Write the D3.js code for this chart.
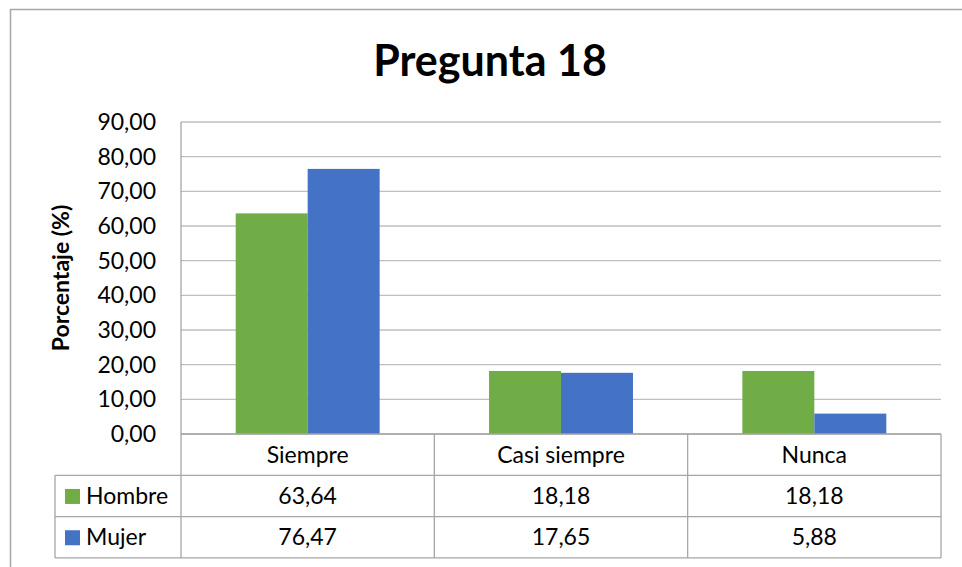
<!DOCTYPE html>
<html>
<head>
<meta charset="utf-8">
<script src="https://cdn.jsdelivr.net/npm/d3@7"></script>
<style>
  body { margin: 0; background: #fff; }
  svg { display: block; font-family: Lato, "Open Sans", sans-serif; }
</style>
</head>
<body>
<svg id="svg" width="962" height="567"></svg>
<script>
var categories = ["Siempre", "Casi siempre", "Nunca"];
var seriesNames = ["Hombre", "Mujer"];
var hombre = [63.64, 18.18, 18.18];
var mujer = [76.47, 17.65, 5.88];
var yTicks = [0, 10, 20, 30, 40, 50, 60, 70, 80, 90];

var colors = ["#70ad47", "#4472c4"];
var values = [hombre, mujer];
var fmt = function (v) { return v.toFixed(2).replace(".", ","); };

var svg = d3.select("#svg");
var plotLeft = 181, plotRight = 941, plotTop = 122, plotBottom = 434;
var rowH = 41.3, tableLeft = 55;
var fs = 23;

// outer frame
svg.append("path")
    .attr("d", "M10.5,567 L10.5,9.5 L962,9.5")
    .attr("fill", "none")
    .attr("stroke", "#a6a6a6")
    .attr("stroke-width", 1.5);

svg.append("text")
    .attr("x", 490).attr("y", 76)
    .attr("text-anchor", "middle")
    .attr("font-size", 43).attr("font-weight", "bold")
    .text("Pregunta 18");

var x = d3.scaleBand().domain(categories).range([plotLeft, plotRight]);
var x1 = d3.scaleBand().domain(seriesNames).range([0, x.bandwidth()]).paddingInner(0).paddingOuter(0.76);
var y = d3.scaleLinear().domain([0, 90]).range([plotBottom, plotTop]);

// gridlines
svg.append("g").selectAll("line")
    .data(yTicks)
    .enter().append("line")
    .attr("x1", plotLeft).attr("x2", plotRight)
    .attr("y1", function (d) { return y(d); })
    .attr("y2", function (d) { return y(d); })
    .attr("stroke", "#bfbfbf").attr("stroke-width", 1.3);

// y axis labels
svg.append("g").selectAll("text")
    .data(yTicks)
    .enter().append("text")
    .attr("x", plotLeft - 25)
    .attr("y", function (d) { return y(d); })
    .attr("dy", "0.35em")
    .attr("text-anchor", "end")
    .attr("font-size", fs)
    .text(function (d) { return fmt(d); });

svg.append("text")
    .attr("transform", "translate(69," + ((plotTop + plotBottom) / 2) + ") rotate(-90)")
    .attr("text-anchor", "middle")
    .attr("font-size", fs).attr("font-weight", "bold")
    .text("Porcentaje (%)");

// bars
seriesNames.forEach(function (s, i) {
    svg.append("g").selectAll("rect")
        .data(values[i])
        .enter().append("rect")
        .attr("x", function (d, j) { return x(categories[j]) + x1(s); })
        .attr("y", function (d) { return y(d); })
        .attr("width", x1.bandwidth())
        .attr("height", function (d) { return y(0) - y(d); })
        .attr("fill", colors[i]);
});

// data table
var tbl = svg.append("g").attr("stroke", "#a6a6a6").attr("stroke-width", 1.3).attr("fill", "none");
var tableBottom = plotBottom + rowH * 3;
tbl.append("line").attr("x1", plotLeft).attr("x2", plotLeft).attr("y1", plotTop).attr("y2", tableBottom);
tbl.append("line").attr("x1", plotLeft).attr("x2", plotRight).attr("y1", plotBottom).attr("y2", plotBottom);
[1, 2, 3].forEach(function (r) {
    tbl.append("line").attr("x1", tableLeft).attr("x2", plotRight)
        .attr("y1", plotBottom + rowH * r).attr("y2", plotBottom + rowH * r);
});
tbl.append("line").attr("x1", tableLeft).attr("x2", tableLeft).attr("y1", plotBottom + rowH).attr("y2", tableBottom);
categories.forEach(function (c) {
    tbl.append("line").attr("x1", x(c) + x.bandwidth()).attr("x2", x(c) + x.bandwidth())
        .attr("y1", plotBottom).attr("y2", tableBottom);
});

svg.append("g").selectAll("text")
    .data(categories)
    .enter().append("text")
    .attr("x", function (d) { return x(d) + x.bandwidth() / 2; })
    .attr("y", plotBottom + rowH / 2)
    .attr("dy", "0.35em")
    .attr("text-anchor", "middle")
    .attr("font-size", fs)
    .text(function (d) { return d; });

seriesNames.forEach(function (s, i) {
    var cy = plotBottom + rowH * (i + 1) + rowH / 2;
    svg.append("rect")
        .attr("x", 65).attr("y", cy - 7)
        .attr("width", 15).attr("height", 15)
        .attr("fill", colors[i]);
    svg.append("text")
        .attr("x", 86).attr("y", cy).attr("dy", "0.35em")
        .attr("font-size", fs)
        .text(s);
    svg.append("g").selectAll("text")
        .data(values[i])
        .enter().append("text")
        .attr("x", function (d, j) { return x(categories[j]) + x.bandwidth() / 2; })
        .attr("y", cy).attr("dy", "0.35em")
        .attr("text-anchor", "middle")
        .attr("font-size", fs)
        .text(function (d) { return fmt(d); });
});
</script>
</body>
</html>
